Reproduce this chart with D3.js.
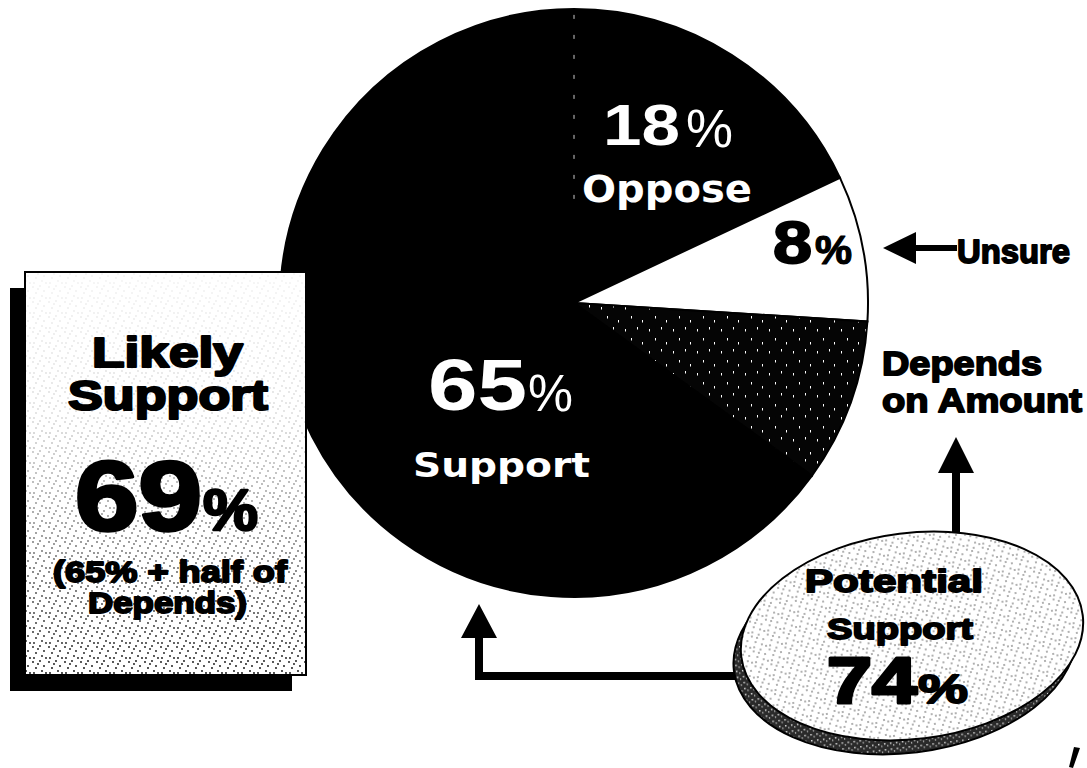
<!DOCTYPE html>
<html>
<head>
<meta charset="utf-8">
<script src="https://cdn.jsdelivr.net/npm/d3@7"></script>
<style>
  html, body { margin: 0; padding: 0; background: #fff; }
  svg { display: block; }
</style>
</head>
<body>
<script>
// survey answers, clockwise from 12 o'clock
var categories = ["Oppose", "Unsure", "Depends on Amount", "Support"];
var values = [18, 8, 9, 65];
var likelySupport = 69;      // 65% + half of Depends
var potentialSupport = 74;   // 65% + Depends

var width = 1087, height = 768;
var cx = 574, cy = 303, radius = 294;

var svg = d3.select("body").append("svg")
  .attr("width", width)
  .attr("height", height);

var defs = svg.append("defs");

// stipple dots (black) used on the light panels
var dotPts = [[1,2],[8,1],[12,6],[4,8],[10,11],[2,13],[14,13],[6,4]];
var dots = defs.append("pattern").attr("id", "dots")
  .attr("width", 16).attr("height", 15).attr("patternUnits", "userSpaceOnUse");
dots.selectAll("circle").data(dotPts).enter().append("circle")
  .attr("cx", function(d) { return d[0]; })
  .attr("cy", function(d) { return d[1]; })
  .attr("r", 0.9).attr("fill", "#000");

// white specks used on the dark "depends" slice
var speckPts = [[3,4],[15,2],[9,13],[20,17]];
var specks = defs.append("pattern").attr("id", "specks")
  .attr("width", 24).attr("height", 22).attr("patternUnits", "userSpaceOnUse");
specks.append("rect").attr("width", 24).attr("height", 22).attr("fill", "#050505");
specks.selectAll("rect.s").data(speckPts).enter().append("rect")
  .attr("class", "s")
  .attr("x", function(d) { return d[0]; })
  .attr("y", function(d) { return d[1]; })
  .attr("width", 1).attr("height", 2.5).attr("fill", "#fff");

// dark mottled side of the disk
var edge = defs.append("pattern").attr("id", "edge")
  .attr("width", 6).attr("height", 6).attr("patternUnits", "userSpaceOnUse");
edge.append("rect").attr("width", 6).attr("height", 6).attr("fill", "#2a2a2a");
edge.append("rect").attr("x", 1).attr("y", 1).attr("width", 1.5).attr("height", 1.5).attr("fill", "#ddd");
edge.append("rect").attr("x", 4).attr("y", 3).attr("width", 1.2).attr("height", 1.8).attr("fill", "#aaa");

var grad = defs.append("linearGradient").attr("id", "fade")
  .attr("x1", 0).attr("y1", 0).attr("x2", 0).attr("y2", 1);
grad.append("stop").attr("offset", "0").attr("stop-color", "#fff").attr("stop-opacity", 0.05);
grad.append("stop").attr("offset", "0.35").attr("stop-color", "#fff").attr("stop-opacity", 0.15);
grad.append("stop").attr("offset", "0.7").attr("stop-color", "#fff").attr("stop-opacity", 0.6);
grad.append("stop").attr("offset", "1").attr("stop-color", "#fff").attr("stop-opacity", 1);
var mask = defs.append("mask").attr("id", "fadeMask");
mask.append("rect").attr("x", 25).attr("y", 272).attr("width", 281).attr("height", 403)
  .attr("fill", "url(#fade)");

// ---- pie ----
var sliceFill = ["#000", "#fff", "url(#specks)", "#000"];

var pie = d3.pie().sort(null).value(function(d) { return d; });
var arc = d3.arc().innerRadius(0).outerRadius(radius);

var pieG = svg.append("g").attr("transform", "translate(" + cx + "," + cy + ")");

pieG.selectAll("path.slice")
  .data(pie(values))
  .enter().append("path")
    .attr("class", "slice")
    .attr("d", arc)
    .attr("fill", function(d, i) { return sliceFill[i]; })
    .attr("stroke", "#000")
    .attr("stroke-width", 2);

// faint dashed boundary between Support and Oppose
var a0 = pie(values)[0].startAngle;
pieG.append("line")
  .attr("x1", radius * 0.98 * Math.sin(a0)).attr("y1", -radius * 0.98 * Math.cos(a0))
  .attr("x2", radius * 0.3 * Math.sin(a0)).attr("y2", -radius * 0.3 * Math.cos(a0))
  .attr("stroke", "#fff").attr("stroke-width", 1)
  .attr("stroke-dasharray", "4 16").attr("opacity", 0.8);

// text helper: x is left edge, w is the fitted width
function label(x, y, s, size, w, o) {
  o = o || {};
  var t = svg.append("text")
    .attr("x", x).attr("y", y)
    .attr("font-family", o.family || "'Liberation Sans', Arial, sans-serif")
    .attr("font-weight", o.weight || "bold")
    .attr("font-size", size)
    .attr("fill", o.fill || "#000")
    .attr("textLength", w)
    .attr("lengthAdjust", "spacingAndGlyphs")
    .text(s);
  if (o.heavy) {
    t.attr("stroke", o.fill || "#000").attr("stroke-width", o.heavy)
      .attr("stroke-linejoin", "round");
  }
  return t;
}

// pie labels
label(603, 145, String(values[0]), 58, 77, { fill: "#fff" });
label(686, 147, "%", 54, 47, { fill: "#fff", weight: "normal" });
label(582, 202, categories[0], 37, 170, { fill: "#fff", family: "'DejaVu Sans', Verdana, sans-serif" });

label(773, 263, String(values[1]), 60, 39, { heavy: 2 });
label(815, 264, "%", 40, 37, { heavy: 1.2 });

label(428, 410, String(values[3]), 72, 99, { fill: "#fff" });
label(528, 411, "%", 52, 45, { fill: "#fff", weight: "normal" });
label(413, 477, categories[3], 34, 177, { fill: "#fff", family: "'DejaVu Sans', Verdana, sans-serif" });

// Unsure arrow
svg.append("path")
  .attr("d", d3.line()([[883, 248], [916, 232], [916, 245], [957, 245], [957, 251], [916, 251], [916, 264]]) + "Z")
  .attr("fill", "#000");
label(957, 263, categories[1], 34, 113, { heavy: 1.8 });

// Depends on Amount
label(882, 375, "Depends", 34, 160, { heavy: 1.8 });
label(882, 412, "on Amount", 34, 200, { heavy: 1.8 });

// ---- Likely Support panel ----
svg.append("rect").attr("x", 10).attr("y", 288).attr("width", 282).attr("height", 403).attr("fill", "#000");
svg.append("rect").attr("x", 25).attr("y", 272).attr("width", 281).attr("height", 403)
  .attr("fill", "#fff");
svg.append("rect").attr("x", 25).attr("y", 272).attr("width", 281).attr("height", 403)
  .attr("fill", "url(#dots)").attr("mask", "url(#fadeMask)");
svg.append("rect").attr("x", 25).attr("y", 272).attr("width", 281).attr("height", 403)
  .attr("fill", "none").attr("stroke", "#000").attr("stroke-width", 2);

label(92, 367, "Likely", 42, 151, { heavy: 2.2 });
label(68, 410, "Support", 42, 200, { heavy: 2.2 });
label(75, 530, String(likelySupport), 98, 127, { heavy: 3.5 });
label(203, 530, "%", 58, 55, { heavy: 2.4 });
label(53, 582, "(" + values[3] + "% + half of", 29, 234, { heavy: 1.8 });
label(88, 613, "Depends)", 29, 159, { heavy: 1.8 });

// ---- connector arrows ----
svg.append("path")
  .attr("d", d3.line()([[479, 604], [497, 638], [483, 638], [483, 672], [745, 672], [745, 680], [475, 680], [475, 638], [461, 638]]) + "Z")
  .attr("fill", "#000");
svg.append("path")
  .attr("d", d3.line()([[956, 437], [974, 473], [960, 473], [960, 545], [952, 545], [952, 473], [938, 473]]) + "Z")
  .attr("fill", "#000");

// ---- Potential Support disk ----
var disk = svg.append("g").attr("transform", "rotate(-7, 912, 636)");
disk.append("ellipse")
  .attr("cx", 903).attr("cy", 649).attr("rx", 172).attr("ry", 103)
  .attr("fill", "url(#edge)").attr("stroke", "#000").attr("stroke-width", 2);
disk.append("ellipse")
  .attr("cx", 912).attr("cy", 636).attr("rx", 172).attr("ry", 103)
  .attr("fill", "#fff").attr("stroke", "#000").attr("stroke-width", 2);
disk.append("ellipse")
  .attr("cx", 912).attr("cy", 636).attr("rx", 171).attr("ry", 102)
  .attr("fill", "url(#dots)").attr("opacity", 0.45);

label(805, 592, "Potential", 31, 178, { heavy: 1.8 });
label(827, 639, "Support", 30, 146, { heavy: 1.8 });
label(827, 703, String(potentialSupport), 64, 90, { heavy: 3 });
label(918, 703, "%", 40, 50, { heavy: 1.8 });

// stray mark at bottom right of the scan
svg.append("path")
  .attr("d", d3.line()([[1074, 747], [1080, 748], [1073, 768], [1069, 767]]) + "Z")
  .attr("fill", "#000");
</script>
</body>
</html>
